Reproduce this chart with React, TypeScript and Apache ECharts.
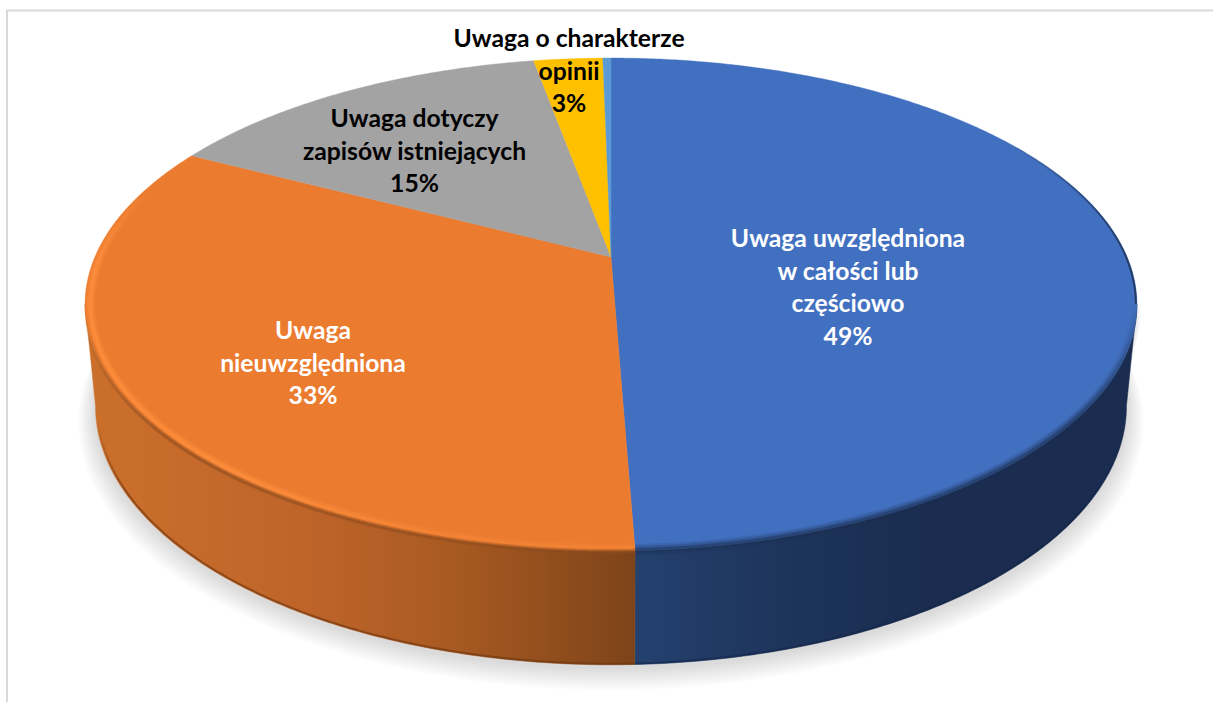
import React, { useEffect, useRef } from "react";
import * as echarts from "echarts";

const sliceNames = [
  "Uwaga uwzględniona w całości lub częściowo",
  "Uwaga nieuwzględniona",
  "Uwaga dotyczy zapisów istniejących",
  "Uwaga o charakterze opinii",
  "Inne",
];
const sliceValues = [49.4, 33.3, 14.45, 2.55, 0.3];
const sliceColors = ["#4270c0", "#eb7b2f", "#a3a3a3", "#ffc000", "#5b9bd5"];
const labelLines = [
  ["Uwaga uwzględniona", "w całości lub", "częściowo", "49%"],
  ["Uwaga", "nieuwzględniona", "33%"],
  ["Uwaga dotyczy", "zapisów istniejących", "15%"],
  ["Uwaga o charakterze", "opinii", "3%"],
  [],
];
const labelColors = ["#ffffff", "#ffffff", "#000000", "#000000", "#000000"];
const labelAnchors = [
  [848, 237.5],
  [313, 329.5],
  [414.5, 117.5],
  [569, 37.5],
  [0, 0],
];

const LABEL_FONT = "Lato, Carlito, sans-serif";
const LABEL_SIZE = 24.7;
const LINE_H = 32.7;

// Tilted disc: rim is a perspective view of a circle
const CX = 611;
const K = 0.1927;
const TOP = { apex: 257, A: 516.1, B: 237.3 };
const BOT = { apex: 356.5, A: 505.8, B: 248.9 };
const RIGHT_LIMIT = 101;
const LEFT_LIMIT = 259;

type Disc = { apex: number; A: number; B: number };

function rim(disc: Disc, deg: number, r = 1, dy = 0): number[] {
  const t = (deg * Math.PI) / 180;
  const w = 1 + K * r * Math.cos(t);
  return [
    CX + (disc.A * r * Math.sin(t)) / w,
    disc.apex + dy - (disc.B * r * Math.cos(t)) / w,
  ];
}

function arc(disc: Disc, from: number, to: number, r = 1, dy = 0): number[][] {
  const n = Math.max(2, Math.ceil(Math.abs(to - from) * 2));
  const pts: number[][] = [];
  for (let i = 0; i <= n; i++) pts.push(rim(disc, from + ((to - from) * i) / n, r, dy));
  return pts;
}

const grad = (stops: [number, string][]) =>
  new echarts.graphic.LinearGradient(
    85,
    0,
    1137,
    0,
    stops.map(([offset, color]) => ({ offset, color })),
    true,
  );

const vgrad = (y0: number, y1: number, stops: [number, string][]) =>
  new echarts.graphic.LinearGradient(
    0,
    y0,
    0,
    y1,
    stops.map(([offset, color]) => ({ offset, color })),
    true,
  );

const total = sliceValues.reduce((a, b) => a + b, 0);
function sliceAngles(i: number): [number, number] {
  const before = sliceValues.slice(0, i).reduce((a, b) => a + b, 0);
  const m = (v: number) => echarts.number.linearMap(v, [0, total], [0, 360]);
  return [m(before), m(before + sliceValues[i])];
}

const orangeSide = () =>
  grad([
    [0, "#cb702b"],
    [0.2, "#c0652a"],
    [0.35, "#a85a22"],
    [0.52, "#7e4419"],
    [1, "#7e4419"],
  ]);
const blueSide = () =>
  grad([
    [0, "#24416f"],
    [0.52, "#24416f"],
    [0.68, "#1d3359"],
    [0.8, "#1a2d50"],
    [1, "#1a2d50"],
  ]);

function stroke(points: number[][], color: any, lineWidth: number, opacity = 1) {
  return {
    type: "polyline",
    silent: true,
    shape: { points },
    style: { stroke: color, lineWidth, fill: null, opacity, lineCap: "butt", lineJoin: "round" },
  };
}

function renderShadow() {
  const layers: any[] = [];
  const n = 12;
  for (let i = n; i >= 1; i--) {
    const f = i / n;
    layers.push({
      type: "polygon",
      silent: true,
      shape: { points: arc(BOT, 0, 360, 1 + 0.032 * f, 3 + 10 * f) },
      style: { fill: "#000000", opacity: 0.011 },
    });
  }
  return { type: "group", children: layers };
}

function renderSlice(params: any, api: any) {
  const i = params.dataIndex;
  api.value(0);
  const [a0, a1] = sliceAngles(i);
  const children: any[] = [];

  // Side wall (front half only)
  const s0 = Math.max(a0, RIGHT_LIMIT);
  const s1 = Math.min(a1, LEFT_LIMIT);
  if (s1 > s0) {
    const fill = i === 0 ? blueSide() : orangeSide();
    children.push({
      type: "polygon",
      silent: true,
      shape: { points: [...arc(TOP, s0, s1), ...arc(BOT, s1, s0)] },
      style: { fill, stroke: fill, lineWidth: 0.5 },
    });
    const dark = i === 0 ? "20,38,71" : "107,53,16";
    children.push(
      stroke(
        arc(BOT, s0, s1, 0.997),
        vgrad(420, 490, [
          [0, `rgba(${dark},0)`],
          [1, `rgba(${dark},0.6)`],
        ]),
        2,
      ),
    );
  }

  // Top face
  children.push({
    type: "polygon",
    silent: true,
    shape: { points: [[CX, TOP.apex], ...arc(TOP, a0, a1)] },
    style: { fill: sliceColors[i], stroke: sliceColors[i], lineWidth: 0.4 },
  });

  // Bevel
  if (i === 1) {
    const bright = () =>
      vgrad(190, 551, [
        [0, "rgba(255,142,60,0)"],
        [0.22, "rgba(255,142,60,1)"],
        [0.8, "rgba(255,142,60,0.95)"],
        [0.97, "rgba(255,142,60,0.3)"],
        [1, "rgba(255,142,60,0.3)"],
      ]);
    const pts = arc(TOP, a0, 300, 0.99);
    children.push(stroke(pts, bright(), 9, 0.3));
    children.push(stroke(pts, bright(), 5.5, 0.45));
    children.push(stroke(pts, bright(), 2.5, 0.6));
    const edgeFade = () =>
      vgrad(310, 440, [
        [0, "rgba(126,68,25,0)"],
        [1, "rgba(140,74,28,0.6)"],
      ]);
    const edge = arc(TOP, a0, LEFT_LIMIT, 0.999, 1);
    children.push(stroke(edge, edgeFade(), 5, 0.6));
    children.push(stroke(edge, edgeFade(), 2.5, 0.8));
  }
  if (i === 0) {
    const thin = new echarts.graphic.LinearGradient(
      1000,
      0,
      1130,
      0,
      [
        { offset: 0, color: "rgba(26,45,80,0)" },
        { offset: 1, color: "rgba(26,45,80,0.8)" },
      ],
      true,
    );
    children.push(stroke(arc(TOP, 50, RIGHT_LIMIT, 0.998), thin, 2));
    const fade = () =>
      vgrad(300, 420, [
        [0, "rgba(26,45,80,0)"],
        [1, "rgba(26,45,80,1)"],
      ]);
    const edge = arc(TOP, RIGHT_LIMIT, a1, 0.998);
    children.push(stroke(edge, fade(), 12, 0.15));
    children.push(stroke(edge, fade(), 8, 0.25));
    children.push(stroke(edge, fade(), 4, 0.45));
  }

  // Label
  const lines = labelLines[i];
  const [lx, ly] = labelAnchors[i];
  lines.forEach((text, j) => {
    children.push({
      type: "text",
      silent: true,
      x: lx,
      y: ly + j * LINE_H,
      style: {
        text,
        fill: labelColors[i],
        fontFamily: LABEL_FONT,
        fontSize: LABEL_SIZE,
        fontWeight: "bold",
        align: "center",
        verticalAlign: "middle",
      },
    });
  });

  return { type: "group", children };
}

export default function App() {
  const ref = useRef<HTMLDivElement>(null);
  useEffect(() => {
    const chart = echarts.init(ref.current!, null, { renderer: "svg" });
    chart.setOption({
      animation: false,
      backgroundColor: "#ffffff",
      graphic: [
        {
          type: "polyline",
          silent: true,
          shape: { points: [[7, 702], [7, 10.5], [1213, 10.5]] },
          style: { stroke: "#d9d9d9", lineWidth: 2, fill: null },
        },
      ],
      series: [
        {
          type: "custom",
          name: "cień",
          coordinateSystem: "none",
          silent: true,
          clip: false,
          data: [[1]],
          renderItem: renderShadow,
        },
        {
          type: "custom",
          name: "Uwagi",
          coordinateSystem: "none",
          silent: true,
          clip: false,
          data: sliceNames.map((name, i) => ({ name, value: [sliceValues[i]] })),
          renderItem: renderSlice,
        },
      ],
    });
    return () => chart.dispose();
  }, []);
  return <div ref={ref} style={{ position: "absolute", left: 0, top: 0, width: 1213, height: 702 }} />;
}
